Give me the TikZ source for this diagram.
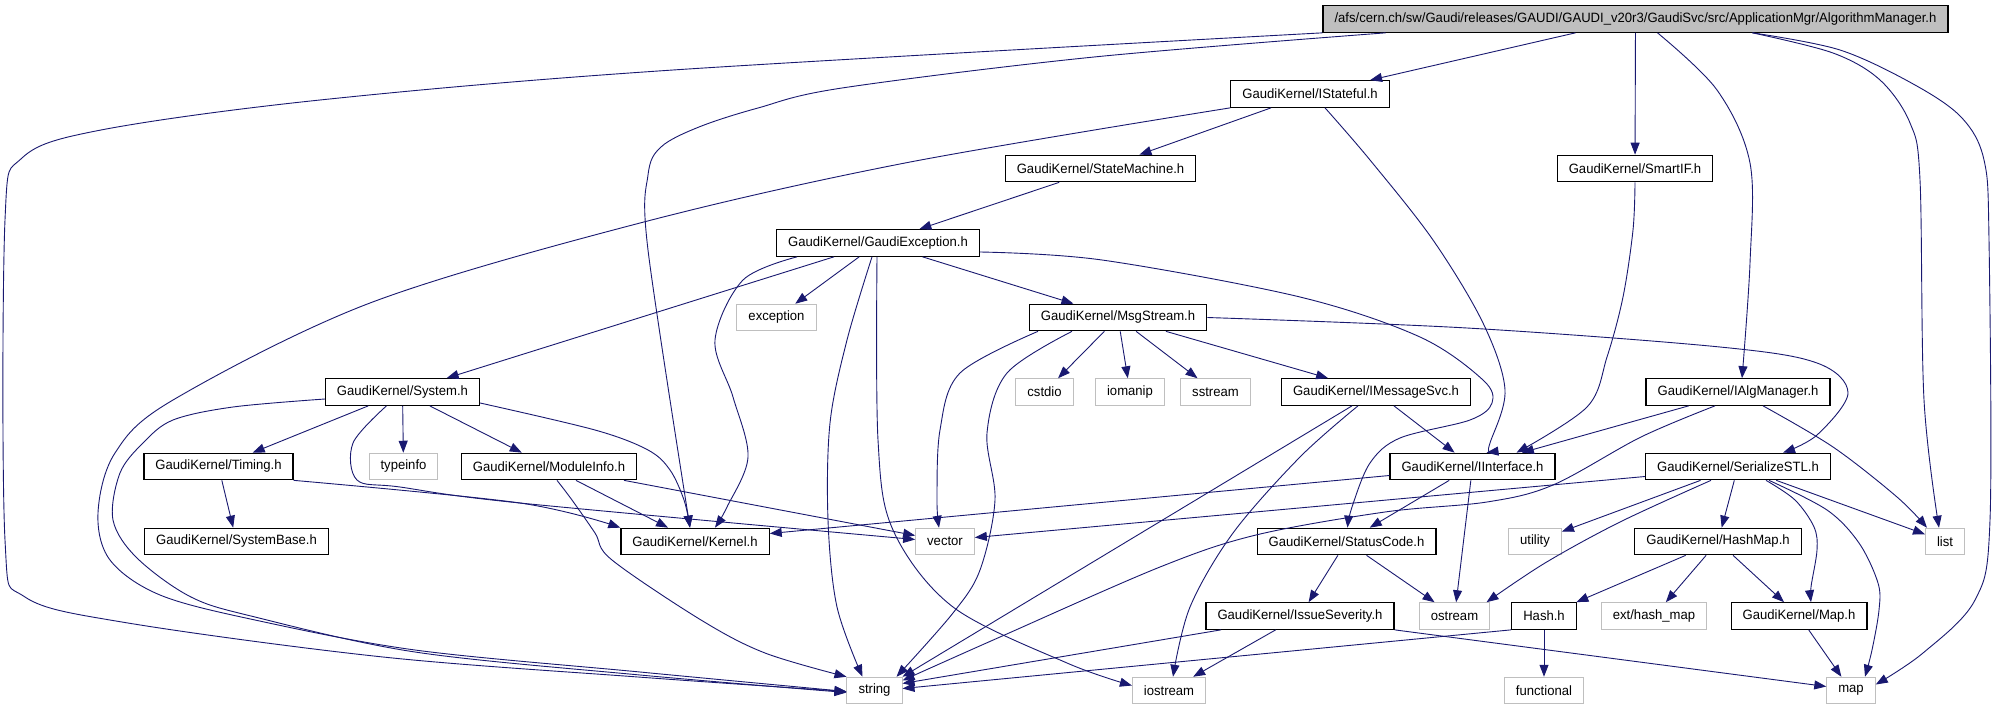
\documentclass[tikz,border=0pt]{standalone}
\usepackage{fontspec}
\usepackage{tikz}
\usetikzlibrary{arrows.meta}
\newfontfamily\dxfont{Liberation Sans}[FakeStretch=0.97]
\definecolor{dxblue}{HTML}{191970}
\definecolor{rootgray}{HTML}{BFBFBF}
\definecolor{sysgray}{HTML}{BFBFBF}
\tikzset{
  box/.style={draw, rectangle, minimum height=26.5pt, inner xsep=11.5pt, inner ysep=0pt,
    line width=1.2pt, font=\dxfont\fontsize{13.5pt}{16pt}\selectfont},
  hdr/.style={box, fill=rootgray},
  mod/.style={box},
  sys/.style={box, draw=sysgray, line width=1pt},
  arr/.style={-{Triangle[length=12pt,width=9pt]}, draw=dxblue, line width=0.9pt},
  curve/.style={arr, smooth, tension=0.55}
}

\begin{document}
\begin{tikzpicture}[x=1pt, y=-1pt]
\useasboundingbox[fill=white] (0,0) rectangle (2005,709);
% header file and its direct includes
\node[hdr] (root) at (1635.5,19) {/afs/cern.ch/sw/Gaudi/releases/GAUDI/GAUDI\_v20r3/GaudiSvc/src/ApplicationMgr/AlgorithmManager.h};
\node[mod] (istateful) at (1310,94) {GaudiKernel/IStateful.h};
\node[mod] (statemachine) at (1100.5,168.5) {GaudiKernel/StateMachine.h};
\node[mod] (smartif) at (1635,168.5) {GaudiKernel/SmartIF.h};
\node[mod] (gaudiexc) at (878,243) {GaudiKernel/GaudiException.h};
\node[sys] (exception) at (776.5,317.5) {exception};
\node[mod] (msgstream) at (1118,317.5) {GaudiKernel/MsgStream.h};
\node[mod] (system) at (402.5,392) {GaudiKernel/System.h};
\node[sys] (cstdio) at (1044.5,392) {cstdio};
\node[sys] (iomanip) at (1130,392) {iomanip};
\node[sys] (sstream) at (1215.5,392) {sstream};
\node[mod] (imsgsvc) at (1376,392) {GaudiKernel/IMessageSvc.h};
\node[mod] (ialgmgr) at (1738,392) {GaudiKernel/IAlgManager.h};
\node[mod] (timing) at (218.5,466.5) {GaudiKernel/Timing.h};
\node[sys] (typeinfo) at (403.5,466.5) {typeinfo};
\node[mod] (moduleinfo) at (549,466.5) {GaudiKernel/ModuleInfo.h};
\node[mod] (iinterface) at (1472.5,466.5) {GaudiKernel/IInterface.h};
\node[mod] (serializestl) at (1738,466.5) {GaudiKernel/SerializeSTL.h};
\node[mod] (systembase) at (236.5,541.5) {GaudiKernel/SystemBase.h};
\node[mod] (kernel) at (695,541.5) {GaudiKernel/Kernel.h};
\node[sys] (vector) at (945,541.5) {vector};
\node[mod] (statuscode) at (1346.5,541.5) {GaudiKernel/StatusCode.h};
\node[sys] (utility) at (1535,541.5) {utility};
\node[mod] (hashmap) at (1718,541.5) {GaudiKernel/HashMap.h};
\node[sys] (list) at (1945,541.5) {list};
\node[mod] (issuesev) at (1300,616) {GaudiKernel/IssueSeverity.h};
\node[sys] (ostream) at (1454.5,616) {ostream};
\node[mod] (hash) at (1544,616) {Hash.h};
\node[sys] (exthashmap) at (1654,616) {ext/hash\_map};
\node[mod] (maph) at (1799,616) {GaudiKernel/Map.h};
\node[sys] (string) at (874.5,690.5) {string};
\node[sys] (iostream) at (1169,690.5) {iostream};
\node[sys] (functional) at (1544,690.5) {functional};
\node[sys] (map) at (1851,690.5) {map};

% straight includes
\foreach \s/\t in {root/istateful,root/smartif,istateful/statemachine,statemachine/gaudiexc,
  gaudiexc/system,gaudiexc/exception,gaudiexc/msgstream,msgstream/cstdio,msgstream/iomanip,
  msgstream/sstream,msgstream/imsgsvc,imsgsvc/iinterface,system/timing,system/typeinfo,
  system/moduleinfo,timing/systembase,moduleinfo/kernel,ialgmgr/iinterface,iinterface/statuscode,
  iinterface/ostream,serializestl/utility,serializestl/hashmap,serializestl/list,statuscode/issuesev,
  statuscode/ostream,hashmap/hash,hashmap/exthashmap,hashmap/maph,maph/map,issuesev/iostream,
  hash/functional}
  \draw[arr] (\s) -- (\t);
\draw[arr] ([xshift=-24pt]imsgsvc.south) -- (string.north east);
\draw[arr] ([xshift=75pt]moduleinfo.south) -- ([yshift=6pt]vector.west);
\draw[arr] ([yshift=-9pt]iinterface.west) -- ([yshift=8pt]kernel.east);
\draw[arr] ([yshift=-10pt]serializestl.west) -- ([yshift=4pt]vector.east);
\draw[arr] ([xshift=-79pt]issuesev.south) -- ([yshift=7pt]string.east);
\draw[arr] (issuesev.south east) -- ([yshift=4pt]map.west);
\draw[arr] (hash.south west) -- ([yshift=2pt]string.east);

% long splines
\draw[curve] plot coordinates {(root.south west) (673,70) (320,100) (101,130) (22,158) (5,220)
  (5,540) (25,597) (128,623) (383,657) (638,677) ([yshift=-1pt]string.west)};
\draw[curve] plot coordinates {([xshift=-250pt]root.south) (1094,57) (842,88) (758,108) (699,127)
  (661,147) (648,175) (648,250) ([xshift=-5pt]kernel.north)};
\draw[curve] plot coordinates {([xshift=22pt]root.south) (1717,90) (1750,163) (1750,263)
  ([xshift=4pt]ialgmgr.north)};
\draw[curve] plot coordinates {([xshift=117pt]root.south) (1833,53) (1880,80) (1910,123)
  (1920,180) (1924,400) ([xshift=-6pt]list.north)};
\draw[curve] plot coordinates {([xshift=117pt]root.south) (1840,50) (1915,85) (1962,118)
  (1984,160) (1989,240) (1990,520) (1975,600) (1923,653) ([yshift=6pt]map.east)};
\draw[curve] plot coordinates {(istateful.south west) (905,163) (640,223) (370,303) (173,400)
  (115,453) (98,513) (110,560) (160,595) (255,620) (415,650) (640,672) ([yshift=-1pt]string.west)};
\draw[curve] plot coordinates {([xshift=15pt]istateful.south) (1370,160) (1433,240) (1483,323)
  (1505,390) (1490,443) ([xshift=14pt]iinterface.north)};
\draw[curve] plot coordinates {(smartif.south) (1633,230) (1623,297) (1607,357) (1587,407)
  ([xshift=44pt]iinterface.north)};
\draw[curve] plot coordinates {([xshift=-81pt]gaudiexc.south) (743,280) (715,340) (733,397)
  (748,457) (727,507) ([xshift=20pt]kernel.north)};
\draw[curve] plot coordinates {([xshift=-6pt]gaudiexc.south) (847,340) (830,423) (828,520)
  (837,607) ([xshift=-12pt]string.north)};
\draw[curve] plot coordinates {([xshift=-1pt]gaudiexc.south) (878,440) (893,530) (953,607)
  (1067,663) ([yshift=5pt]iostream.west)};
\draw[curve] plot coordinates {([yshift=-9pt]gaudiexc.east) (1102,260) (1300,297) (1420,337)
  (1483,380) (1492,403) (1470,420) (1400,438) (1370,463) (1352,507) ([xshift=1pt]statuscode.north)};
\draw[curve] plot coordinates {([xshift=-80pt]msgstream.south) (960,373) (940,430) (937,500)
  ([xshift=-6pt]vector.north)};
\draw[curve] plot coordinates {([xshift=-46pt]msgstream.south) (1007,373) (987,433) (995,500)
  (980,570) (953,613) ([xshift=22pt]string.north)};
\draw[curve] plot coordinates {(msgstream.east) (1467,328) (1720,347) (1817,363) (1848,393)
  (1817,435) ([xshift=45pt]serializestl.north)};
\draw[curve] plot coordinates {([xshift=-18pt]imsgsvc.south) (1300,457) (1233,533) (1190,607)
  ([xshift=4pt]iostream.north)};
\draw[curve] plot coordinates {([yshift=-7pt]system.west) (233,407) (173,420) (143,443) (120,473)
  (113,520) (137,558) (191,597) (255,617) (415,652) (640,675) ([yshift=-2pt]string.west)};
\draw[curve] plot coordinates {([xshift=-16pt]system.south) (353,443) (357,480) (400,487)
  (520,503) ([yshift=2pt]vector.west)};
\draw[curve] plot coordinates {([yshift=-11pt]system.east) (595,430) (648,450) (670,470)
  (684,500) ([xshift=-5pt]kernel.north)};
\draw[curve] plot coordinates {(timing.south east) (520,503) (kernel.north west)};
\draw[curve] plot coordinates {([xshift=8pt]moduleinfo.south) (572,500) (595,533) (612,560)
  (701,620) (765,653) (string.north west)};
\draw[curve] plot coordinates {([xshift=25pt]ialgmgr.south) (1833,447) (1897,497)
  ([xshift=-18pt]list.north)};
\draw[curve] plot coordinates {([xshift=-23pt]ialgmgr.south) (1641,437) (1553,485) (1487,502)
  (1385,512) (1256,535) (1160,567) (1000,637) ([yshift=10pt]string.east)};
\draw[curve] plot coordinates {([xshift=-27pt]serializestl.south) (1620,522) (1545,563)
  ([xshift=32pt]ostream.north)};
\draw[curve] plot coordinates {([xshift=28pt]serializestl.south) (1795,500) (1814,527) (1817,550)
  (1811,587) ([xshift=12pt]maph.north)};
\draw[curve] plot coordinates {([xshift=31pt]serializestl.south) (1827,510) (1859,543) (1878,583)
  (1879,610) (1872,650) ([xshift=14pt]map.north)};
\end{tikzpicture}
\end{document}
